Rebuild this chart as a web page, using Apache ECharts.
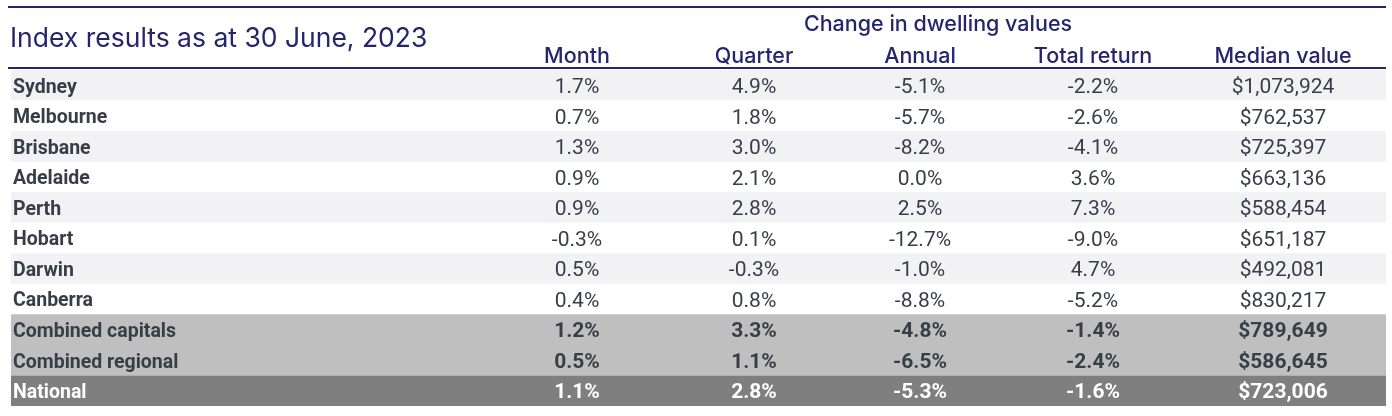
<!DOCTYPE html>
<html>
<head>
<meta charset="utf-8">
<script src="https://cdn.jsdelivr.net/npm/echarts@6/dist/echarts.min.js"></script>
<style>
html, body { margin: 0; padding: 0; background: #fff; }
#main { width: 1392px; height: 416px; }
</style>
</head>
<body>
<div id="main"></div>
<script>
var myChart = echarts.init(document.getElementById('main'));

// table data
var regions = ['Sydney', 'Melbourne', 'Brisbane', 'Adelaide', 'Perth', 'Hobart', 'Darwin', 'Canberra',
    'Combined capitals', 'Combined regional', 'National'];
var month = [1.7, 0.7, 1.3, 0.9, 0.9, -0.3, 0.5, 0.4, 1.2, 0.5, 1.1];
var quarter = [4.9, 1.8, 3.0, 2.1, 2.8, 0.1, -0.3, 0.8, 3.3, 1.1, 2.8];
var annual = [-5.1, -5.7, -8.2, 0.0, 2.5, -12.7, -1.0, -8.8, -4.8, -6.5, -5.3];
var totalReturn = [-2.2, -2.6, -4.1, 3.6, 7.3, -9.0, 4.7, -5.2, -1.4, -2.4, -1.6];
var medianValue = [1073924, 762537, 725397, 663136, 588454, 651187, 492081, 830217, 789649, 586645, 723006];
var columns = ['Month', 'Quarter', 'Annual', 'Total return', 'Median value'];
var groupTitle = 'Change in dwelling values';
var tableTitle = 'Index results as at 30 June, 2023';

// layout (x in grid pixels)
var gridLeft = 11, gridRight = 6, gridTop = 70, gridBottom = 10;
var colX = [566, 743, 909, 1082, 1272];
var labelX = 2;
var navy = '#25246c';
var textColor = '#383e48';

function pct(v) { return v.toFixed(1) + '%'; }
function money(v) { return '$' + v.toLocaleString('en-US'); }

var rows = regions.map(function (r, i) {
    return [i, month[i], quarter[i], annual[i], totalReturn[i], medianValue[i]];
});

function renderRow(params, api) {
    var i = api.value(0);
    var c = api.coord([0, i]);
    var h = api.size([0, 1])[1];
    var x0 = params.coordSys.x, w = params.coordSys.width;
    var fill = (i % 2 === 0) ? '#f2f2f5' : '#ffffff';
    var bold = false, color = textColor;
    if (i === 8 || i === 9) { fill = '#bfbfbf'; bold = true; }
    if (i === 10) { fill = '#7f7f7f'; bold = true; color = '#ffffff'; }
    var ty = c[1] + 2.5;
    var kids = [{
        type: 'rect',
        shape: { x: x0, y: c[1] - h / 2, width: w, height: h },
        style: { fill: fill }
    }, {
        type: 'text',
        style: {
            text: regions[i], x: api.coord([labelX, i])[0], y: ty,
            align: 'left', verticalAlign: 'middle',
            font: 'bold 19.5px Roboto', fill: i === 10 ? '#ffffff' : textColor
        }
    }];
    var vals = [pct(api.value(1)), pct(api.value(2)), pct(api.value(3)), pct(api.value(4)), money(api.value(5))];
    for (var j = 0; j < vals.length; j++) {
        kids.push({
            type: 'text',
            style: {
                text: vals[j], x: api.coord([colX[j], i])[0], y: ty,
                align: 'center', verticalAlign: 'middle',
                font: (bold ? 'bold ' : '') + '21px Roboto', fill: color
            }
        });
    }
    return { type: 'group', children: kids };
}

var option = {
    animation: false,
    grid: { left: gridLeft, right: gridRight, top: gridTop, bottom: gridBottom },
    xAxis: { type: 'value', min: 0, max: 1392 - gridLeft - gridRight, show: false },
    yAxis: { type: 'category', data: regions, inverse: true, show: false },
    series: [{
        type: 'custom',
        renderItem: renderRow,
        data: rows,
        encode: { x: -1, y: 0 },
        silent: true
    }]
};
myChart.setOption(option);

// header texts and rules
var g = [];
var right = 1392 - gridRight;
g.push({ type: 'rect', shape: { x: 8, y: 6, width: right - 8, height: 2 }, style: { fill: navy } });
g.push({ type: 'rect', shape: { x: 8, y: 67, width: right - 8, height: 2 }, style: { fill: navy } });
g.push({
    type: 'text', x: 10, y: 39,
    style: { text: tableTitle, font: '26.5px Inter', fill: navy, align: 'left', verticalAlign: 'middle' }
});
var cx = columns.map(function (c, j) { return myChart.convertToPixel({ xAxisIndex: 0 }, colX[j]); });
g.push({
    type: 'text', x: 938, y: 24.5,
    style: { text: groupTitle, font: '500 21.5px Inter', fill: navy, align: 'center', verticalAlign: 'middle' }
});
columns.forEach(function (c, j) {
    g.push({
        type: 'text', x: cx[j], y: 56.5,
        style: { text: c, font: '500 21.5px Inter', fill: navy, align: 'center', verticalAlign: 'middle' }
    });
});
myChart.setOption({ graphic: g });
</script>
</body>
</html>
